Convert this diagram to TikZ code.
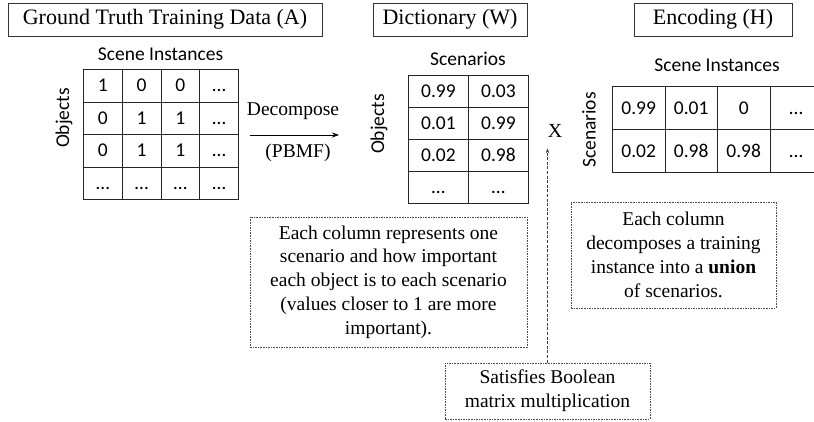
\documentclass[tikz,border=0pt]{standalone}
\usepackage{fontspec}
\setmainfont{Liberation Serif}
\newfontfamily\calib{Carlito}
\usepackage{tikz}
\usetikzlibrary{arrows.meta,positioning}
\newcommand{\titlefont}{\fontsize{22}{26}\selectfont}
\newcommand{\notefont}{\fontsize{19.5}{23.8}\selectfont}
\newcommand{\cellfont}{\calib\fontsize{19.5}{23}\selectfont}

\begin{document}
\begin{tikzpicture}[
    x=1pt, y=-1pt,
    titlebox/.style={draw=black!80, line width=0.8pt, font=\titlefont,
                     minimum height=33pt, inner sep=0pt},
    note/.style={draw=black!70, dash pattern=on 1.6pt off 1pt, line width=0.7pt,
                 align=center, font=\notefont, inner sep=0pt},
    cell/.style={draw=black!85, line width=0.9pt, anchor=north west,
                 inner sep=0pt, text height=12.5pt, text depth=0pt, font=\cellfont},
    lbl/.style={font=\cellfont, inner sep=0pt},
    arr/.style={-{Stealth[length=7pt,width=5pt]}, line width=0.7pt},
    dotarr/.style={-{Stealth[length=5pt,width=3.5pt]}, line width=0.6pt,
                   dash pattern=on 3pt off 1.6pt, black!75}
  ]
    \clip (0,0) rectangle (814,421);
    \fill[white] (0,0) rectangle (814,421);

    % titles
    \node[titlebox, minimum width=314pt] (tA) at (165,19.5) {Ground Truth Training Data (A)};
    \node[titlebox, minimum width=154pt] (tW) at (450,19.5) {Dictionary (W)};
    \node[titlebox, minimum width=158pt] (tH) at (713,19.5) {Encoding (H)};

    % matrix A
    \foreach \row [count=\r] in {{1,0,0,…},{0,1,1,…},{0,1,1,…},{…,…,…,…}}
      \foreach \v [count=\c] in \row
        \node[cell, minimum width=38.75pt, minimum height=32.5pt] (A-\r-\c)
          at ({83+(\c-1)*38.75},{69+(\r-1)*32.5}) {\v};
    \node[lbl, anchor=base] (Ainst) at (160.5,60) {Scene Instances};
    \node[lbl, rotate=90] (Aobj) at (64,118) {Objects};

    % decompose arrow
    \coordinate (decS) at (250,135);
    \coordinate (decE) at (339,135);
    \draw[arr] (decS) -- (decE);
    \node[font=\notefont, anchor=base, inner sep=0pt] (dec) at (293,115) {Decompose};
    \node[font=\notefont, anchor=base, inner sep=0pt] (pbmf) at (298,157) {(PBMF)};

    % matrix W
    \foreach \row [count=\r] in {{0.99,0.03},{0.01,0.99},{0.02,0.98},{…,…}}
      \foreach \v [count=\c] in \row
        \node[cell, minimum width=60pt, minimum height=32pt] (W-\r-\c)
          at ({408+(\c-1)*60},{75+(\r-1)*32}) {\v};
    \node[lbl, anchor=base] (Wscen) at (468,65.7) {Scenarios};
    \node[lbl, rotate=90] (Wobj) at (379,124) {Objects};

    % times sign
    \node[font=\fontsize{20}{24}\selectfont, inner sep=0pt] (mulx) at (555,131) {X};

    % matrix H
    \foreach \row [count=\r] in {{0.99,0.01,0,…},{0.02,0.98,0.98,…}}
      \foreach \v [count=\c] in \row
        \node[cell, minimum width=52.5pt, minimum height=43pt] (H-\r-\c)
          at ({612+(\c-1)*52.5},{86+(\r-1)*43}) {\v};
    \node[lbl, anchor=base] (Hinst) at (717,71) {Scene Instances};
    \node[lbl, rotate=90] (Hscen) at (589,130) {Scenarios};

    % notes
    \node[note, minimum width=277pt, minimum height=130pt] (noteW) at (388.5,282)
      {Each column represents one\\scenario and how important\\each object is to each scenario\\(values closer to 1 are more\\important).};
    \node[note, minimum width=205pt, minimum height=106pt] (noteH) at (673.5,255)
      {Each column\\decomposes a training\\instance into a \textbf{union}\\of scenarios.};
    \node[note, minimum width=205pt, minimum height=56pt] (sat) at (547.5,391)
      {Satisfies Boolean\\matrix multiplication};

    \draw[dotarr, shorten >=10.5pt] (sat.north) -- (sat.north |- mulx.south);
\end{tikzpicture}
\end{document}
